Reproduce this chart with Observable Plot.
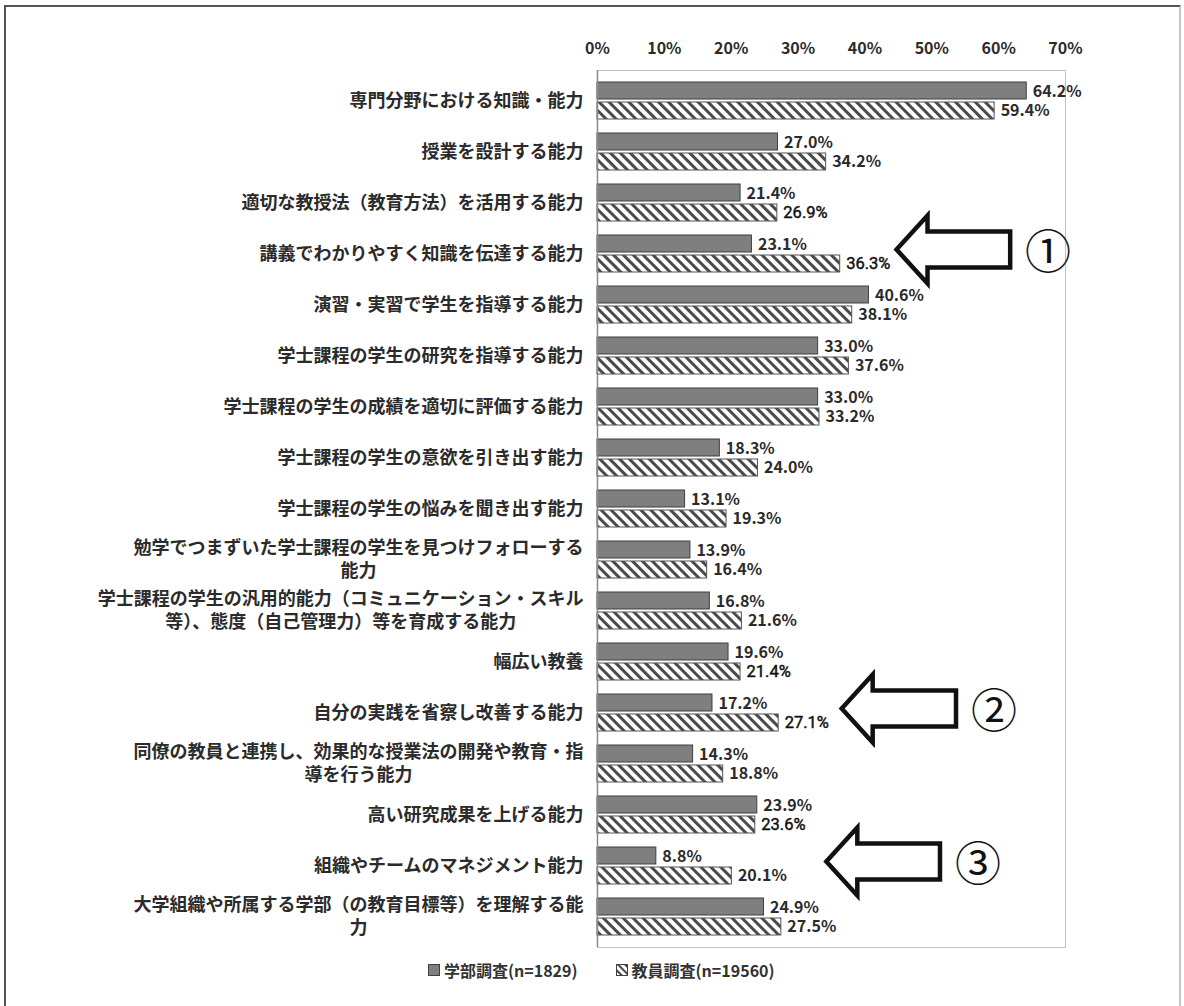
<!DOCTYPE html>
<html>
<head>
<meta charset="utf-8">
<script src="https://cdn.jsdelivr.net/npm/d3@7"></script>
<script src="https://cdn.jsdelivr.net/npm/@observablehq/plot@0.6"></script>
<style>
  body { margin: 0; background: #fff; font-family: "Noto Sans CJK JP", "Noto Sans", sans-serif; }
  #page { position: relative; width: 1184px; height: 1006px; overflow: hidden; background: #fff; }
  #border { position: absolute; left: 4px; top: 5px; width: 1177px; height: 1020px; box-sizing: border-box;
            border-top: 2px solid #555; border-left: 2px solid #555; border-right: 2px solid #c4c4c4; }
  #chart { position: absolute; left: 0; top: 0; }
  #chart svg [aria-label="y-axis tick label"] text,
  #chart svg [aria-label="x-axis tick label"] text { font-weight: 700; }
  #legend { position: absolute; top: 958px; left: 428px; display: flex; align-items: center;
            font-size: 16px; font-weight: 700; color: #333; white-space: nowrap; }
  #legend .item { display: flex; align-items: center; margin-right: 38px; }
  #legend svg { margin-right: 4px; }
</style>
</head>
<body>
<div id="page">
  <div id="border"></div>
  <div id="chart"></div>
  <div id="legend"></div>
</div>
<script>
// Abilities asked about, top to bottom
const categories = [
  "専門分野における知識・能力",
  "授業を設計する能力",
  "適切な教授法（教育方法）を活用する能力",
  "講義でわかりやすく知識を伝達する能力",
  "演習・実習で学生を指導する能力",
  "学士課程の学生の研究を指導する能力",
  "学士課程の学生の成績を適切に評価する能力",
  "学士課程の学生の意欲を引き出す能力",
  "学士課程の学生の悩みを聞き出す能力",
  "勉学でつまずいた学士課程の学生を見つけフォローする能力",
  "学士課程の学生の汎用的能力（コミュニケーション・スキル等）、態度（自己管理力）等を育成する能力",
  "幅広い教養",
  "自分の実践を省察し改善する能力",
  "同僚の教員と連携し、効果的な授業法の開発や教育・指導を行う能力",
  "高い研究成果を上げる能力",
  "組織やチームのマネジメント能力",
  "大学組織や所属する学部（の教育目標等）を理解する能力"
];

// Axis labels, wrapped where the long ones break
const tickLabels = [
  "専門分野における知識・能力",
  "授業を設計する能力",
  "適切な教授法（教育方法）を活用する能力",
  "講義でわかりやすく知識を伝達する能力",
  "演習・実習で学生を指導する能力",
  "学士課程の学生の研究を指導する能力",
  "学士課程の学生の成績を適切に評価する能力",
  "学士課程の学生の意欲を引き出す能力",
  "学士課程の学生の悩みを聞き出す能力",
  "勉学でつまずいた学士課程の学生を見つけフォローする\n能力",
  "学士課程の学生の汎用的能力（コミュニケーション・スキル\n等）、態度（自己管理力）等を育成する能力",
  "幅広い教養",
  "自分の実践を省察し改善する能力",
  "同僚の教員と連携し、効果的な授業法の開発や教育・指\n導を行う能力",
  "高い研究成果を上げる能力",
  "組織やチームのマネジメント能力",
  "大学組織や所属する学部（の教育目標等）を理解する能\n力"
];

const seriesNames = ["学部調査(n=1829)", "教員調査(n=19560)"];

// Percentages (%)
const facultySurvey = [64.2, 27.0, 21.4, 23.1, 40.6, 33.0, 33.0, 18.3, 13.1, 13.9, 16.8, 19.6, 17.2, 14.3, 23.9, 8.8, 24.9];
const teacherSurvey = [59.4, 34.2, 26.9, 36.3, 38.1, 37.6, 33.2, 24.0, 19.3, 16.4, 21.6, 21.4, 27.1, 18.8, 23.6, 20.1, 27.5];

const xTicks = [0, 10, 20, 30, 40, 50, 60, 70];

// Highlighted rows: arrow from tail to tip (in %), numbered badge
const highlightRows = [3, 12, 15];
const highlightNumbers = ["①", "②", "③"];
const highlightTip = [44.8, 36.6, 34.3];
const highlightTail = [61.8, 53.7, 51.3];
const highlightBadge = [67.4, 59.3, 56.9];

const facultyRows = categories.map((c, i) => ({category: c, value: facultySurvey[i]}));
const teacherRows = categories.map((c, i) => ({category: c, value: teacherSurvey[i]}));
const highlights = highlightRows.map((r, i) => ({
  category: categories[r], number: highlightNumbers[i],
  tip: highlightTip[i], tail: highlightTail[i], badge: highlightBadge[i]
}));

// Rows whose second-series value label is set in the plain, narrow typeface
const plainLabelRows = new Set([2, 3, 11, 12, 14]);

const fmt = v => v.toFixed(1) + "%";

// Diagonal hatch used by the second series
function hatchDefs() {
  const defs = d3.create("svg:defs");
  const p = defs.append("pattern").attr("id", "hatch")
    .attr("patternUnits", "userSpaceOnUse").attr("width", 7).attr("height", 7)
    .attr("patternTransform", "rotate(-45)");
  p.append("rect").attr("width", 7).attr("height", 7).attr("fill", "#fff");
  p.append("rect").attr("width", 3).attr("height", 7).attr("fill", "#4a4a4a");
  return defs.node();
}

// Hollow block arrows pointing at the highlighted rows
function highlightArrows(index, scales) {
  const {x, y} = scales;
  const bw = y.bandwidth ? y.bandwidth() : 0;
  const g = d3.create("svg:g").attr("fill", "#fff").attr("stroke", "#111")
    .attr("stroke-width", 4.5).attr("stroke-linejoin", "miter");
  for (const h of highlights) {
    const tx = x(h.tip), ex = x(h.tail), cy = y(h.category) + bw / 2 - 4;
    const head = 31, headHalf = 34, shaftHalf = 18;
    const pts = [[tx, cy], [tx + head, cy - headHalf], [tx + head, cy - shaftHalf], [ex, cy - shaftHalf],
                 [ex, cy + shaftHalf], [tx + head, cy + shaftHalf], [tx + head, cy + headHalf]];
    g.append("path").attr("d", "M" + pts.map(p => p.join(",")).join("L") + "Z");
  }
  return g.node();
}

const valueText = {x: "value", y: "category", text: d => fmt(d.value), textAnchor: "start", dx: 6, fontSize: 16, fill: "#2b2b2b"};

const chart = Plot.plot({
  width: 1184,
  height: 960,
  marginTop: 70,
  marginBottom: 13,
  marginLeft: 597,
  marginRight: 119,
  style: {fontFamily: '"Noto Sans CJK JP", "Noto Sans", sans-serif', color: "#2b2b2b", background: "transparent"},
  x: {domain: [0, 70], label: null},
  y: {domain: categories, padding: 0, label: null},
  marks: [
    hatchDefs,
    Plot.frame({stroke: "#c2c2c2"}),
    Plot.barX(facultyRows, {x: "value", y: "category", fill: "#7f7f7f", stroke: "#3f3f3f", strokeWidth: 1, insetTop: 7, insetBottom: 27}),
    Plot.barX(teacherRows, {x: "value", y: "category", fill: "url(#hatch)", stroke: "#555", strokeWidth: 1, insetTop: 27, insetBottom: 7}),
    Plot.ruleX([0], {stroke: "#8a8a8a", strokeWidth: 1.5}),
    Plot.text(facultyRows, {...valueText, dy: -9, fontWeight: 700}),
    Plot.text(teacherRows, {...valueText, dy: 10, fontWeight: 700, filter: (d, i) => !plainLabelRows.has(i)}),
    Plot.text(teacherRows, {...valueText, dy: 10, fontWeight: 400, fontFamily: '"Liberation Sans Narrow", "Roboto", sans-serif', fontSize: 16.5,
                            fill: "#111", stroke: "#111", strokeWidth: 0.45, filter: (d, i) => plainLabelRows.has(i)}),
    Plot.axisX({anchor: "top", ticks: xTicks, tickFormat: d => d + "%", tickSize: 0, tickPadding: 17, fontSize: 16, label: null}),
    Plot.axisY({anchor: "left", tickSize: 0, tickPadding: 14, fontSize: 18, lineHeight: 1.3, dy: -2,
                tickFormat: c => tickLabels[categories.indexOf(c)], label: null}),
    highlightArrows,
    Plot.text(highlights, {x: "badge", y: "category", text: "number", dy: -1, fontSize: 46, fill: "#111"})
  ]
});

document.getElementById("chart").append(chart);

// Wrapped axis labels: centre the shorter line under the longer one
chart.querySelectorAll('[aria-label="y-axis tick label"] text').forEach(t => {
  const spans = [...t.querySelectorAll("tspan")];
  if (spans.length < 2) return;
  const widths = spans.map(s => s.getComputedTextLength());
  const widest = Math.max(...widths);
  spans.forEach((s, i) => s.setAttribute("x", -(widest - widths[i]) / 2));
});

// Legend
const legend = d3.select("#legend");
const swatches = [
  s => s.append("rect").attr("x", 0.5).attr("y", 0.5).attr("width", 11).attr("height", 11).attr("fill", "#7f7f7f").attr("stroke", "#3f3f3f"),
  s => {
    const p = s.append("defs").append("pattern").attr("id", "hatchKey")
      .attr("patternUnits", "userSpaceOnUse").attr("width", 5).attr("height", 5)
      .attr("patternTransform", "rotate(-45)");
    p.append("rect").attr("width", 5).attr("height", 5).attr("fill", "#fff");
    p.append("rect").attr("width", 2).attr("height", 5).attr("fill", "#4a4a4a");
    s.append("rect").attr("x", 0.5).attr("y", 0.5).attr("width", 11).attr("height", 11).attr("fill", "url(#hatchKey)").attr("stroke", "#3f3f3f");
  }
];
seriesNames.forEach((name, i) => {
  const item = legend.append("div").attr("class", "item");
  const svg = item.append("svg").attr("width", 12).attr("height", 12);
  swatches[i](svg);
  item.append("span").text(name);
});
</script>
</body>
</html>
